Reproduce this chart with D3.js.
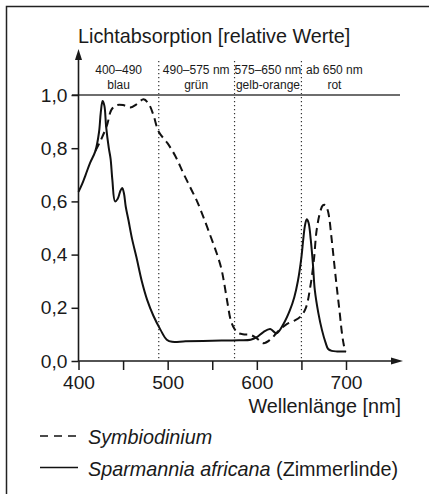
<!DOCTYPE html>
<html><head><meta charset="utf-8">
<script src="https://cdn.jsdelivr.net/npm/d3@7"></script>
<style>
html,body{margin:0;padding:0;background:#fff;}
svg text{font-family:"Liberation Sans",Arial,Helvetica,sans-serif;fill:#1a1a1a;}
</style></head>
<body>
<svg id="chart" width="429" height="494"></svg>
<script>
// Data (wavelength nm, relative absorption)
const symbiodiniumX = [419,425,432,437,443,450,458,465,473,479,484,490,500,509,517,525,533,540,548,555,560,563,567,571,575,579,586,593,600,607.5,615,622,628,634,641,649,655,660,664,667,671,674,677,680,684,687,690,693,695,697,699,700];
const symbiodiniumY = [0.79,0.83,0.887,0.945,0.962,0.962,0.953,0.965,0.984,0.965,0.925,0.862,0.818,0.768,0.71,0.655,0.6,0.542,0.47,0.405,0.35,0.3,0.22,0.15,0.12,0.105,0.1,0.098,0.085,0.067,0.08,0.105,0.125,0.14,0.15,0.167,0.2,0.28,0.38,0.49,0.56,0.585,0.586,0.56,0.455,0.36,0.267,0.18,0.117,0.07,0.04,0.035];
const sparmanniaX = [400,404,408,413,419,423,425,427,429,431,434,436,438,441,444,447,449,451,453,456,460,465,471,477,484,492,499,505,520,550,580,593,600,607,615,622,630,637,642,646,650,652,654,656,658,660.5,663,665,669,673,677,680,684,690,700];
const sparmanniaY = [0.636,0.665,0.70,0.745,0.79,0.86,0.935,0.977,0.96,0.88,0.8,0.76,0.68,0.6,0.61,0.64,0.65,0.63,0.58,0.53,0.46,0.39,0.30,0.23,0.17,0.117,0.08,0.072,0.074,0.076,0.078,0.08,0.09,0.108,0.12,0.104,0.14,0.19,0.24,0.30,0.39,0.455,0.51,0.533,0.52,0.455,0.36,0.267,0.18,0.117,0.07,0.045,0.038,0.036,0.036];

const xTicksMajor = [400,500,600,700];
const xTicksMinor = [450,550,650];
const yTicks = [0,0.2,0.4,0.6,0.8,1.0];
const regionBounds = [490,575,650];
const regionLabels = [
  {x:445, l1:"400–490", l2:"blau"},
  {x:532, l1:"490–575 nm", l2:"grün"},
  {x:612.5, l1:"575–650 nm", l2:"gelb-orange"},
  {x:687, l1:"ab 650 nm", l2:"rot"}
];
const titleText = "Lichtabsorption [relative Werte]";
const xAxisTitle = "Wellenlänge [nm]";

const svg = d3.select("#chart");
const x = d3.scaleLinear().domain([400,700]).range([78.5,346]);
const y = d3.scaleLinear().domain([0,1]).range([361,95]);

// frame (top and left visible)
svg.append("path").attr("d","M6.5,494 V6.5 H429").attr("fill","none").attr("stroke","#222").attr("stroke-width",1.5);

// title
svg.append("text").attr("x",78).attr("y",43).attr("font-size",19.8).text(titleText);

// dotted region lines
svg.selectAll(".dot").data(regionBounds).enter().append("line")
  .attr("x1",d=>x(d)).attr("x2",d=>x(d)).attr("y1",61).attr("y2",361)
  .attr("stroke","#333").attr("stroke-width",1.2).attr("stroke-dasharray","1.2,2.8");

// region labels
const rl = svg.append("g").attr("font-size",12).attr("text-anchor","middle");
regionLabels.forEach(r=>{
  rl.append("text").attr("x",x(r.x)).attr("y",74).text(r.l1);
  rl.append("text").attr("x",x(r.x)).attr("y",89).text(r.l2);
});

// grey 1.0 line
svg.append("line").attr("x1",72).attr("x2",400).attr("y1",y(1)).attr("y2",y(1))
  .attr("stroke","#6e6e6e").attr("stroke-width",2.2);

// y axis
const yAxis = d3.axisLeft(y).tickValues(yTicks).tickSize(7).tickPadding(4)
  .tickFormat(d=>d3.format(".1f")(d).replace(".",","));
const gy = svg.append("g").attr("transform",`translate(${x(400)},0)`).call(yAxis);
gy.select(".domain").remove();
gy.selectAll("line").attr("stroke","#1a1a1a").attr("stroke-width",1.5);
gy.selectAll("text").attr("font-size",19.2).attr("font-family","Liberation Sans, Arial, sans-serif").attr("fill","#1a1a1a");
svg.append("line").attr("x1",x(400)).attr("x2",x(400)).attr("y1",361).attr("y2",58).attr("stroke","#1a1a1a").attr("stroke-width",1.6);
svg.append("path").attr("d",`M${x(400)},49 L${x(400)-3.5},60 L${x(400)+3.5},60 Z`).attr("fill","#1a1a1a");

// x axis
const xAxis = d3.axisBottom(x).tickValues(xTicksMajor.concat(xTicksMinor)).tickSize(9).tickPadding(5)
  .tickFormat(d=>xTicksMajor.includes(d)?d:"");
const gx = svg.append("g").attr("transform","translate(0,361)").call(xAxis);
gx.select(".domain").remove();
gx.selectAll("line").attr("stroke","#1a1a1a").attr("stroke-width",1.5);
gx.selectAll("text").attr("font-size",19.2).attr("font-family","Liberation Sans, Arial, sans-serif").attr("fill","#1a1a1a");
svg.append("line").attr("x1",x(400)).attr("x2",393).attr("y1",361).attr("y2",361).attr("stroke","#1a1a1a").attr("stroke-width",1.6);
svg.append("path").attr("d",`M403,361 L391,357.5 L391,364.5 Z`).attr("fill","#1a1a1a");

svg.append("text").attr("x",401).attr("y",413).attr("text-anchor","end").attr("font-size",19.8).text(xAxisTitle);

// curves
const line = d3.line().x(d=>x(d[0])).y(d=>y(d[1])).curve(d3.curveCatmullRom.alpha(0.5));
const symb = symbiodiniumX.map((v,i)=>[v,symbiodiniumY[i]]);
const spar = sparmanniaX.map((v,i)=>[v,sparmanniaY[i]]);
svg.append("path").attr("d",line(spar)).attr("fill","none").attr("stroke","#111").attr("stroke-width",2);
svg.append("path").attr("d",line(symb)).attr("fill","none").attr("stroke","#111").attr("stroke-width",2)
  .attr("stroke-dasharray","8,5");

// legend
svg.append("line").attr("x1",40).attr("x2",78).attr("y1",436).attr("y2",436).attr("stroke","#111").attr("stroke-width",1.6).attr("stroke-dasharray","8,6");
svg.append("text").attr("x",88).attr("y",444).attr("font-size",19.8).attr("font-style","italic").text("Symbiodinium");
svg.append("line").attr("x1",40).attr("x2",78).attr("y1",467.5).attr("y2",467.5).attr("stroke","#111").attr("stroke-width",1.6);
const t2 = svg.append("text").attr("x",88).attr("y",476).attr("font-size",19.8);
t2.append("tspan").attr("font-style","italic").text("Sparmannia africana");
t2.append("tspan").text(" (Zimmerlinde)");
</script>
</body></html>
